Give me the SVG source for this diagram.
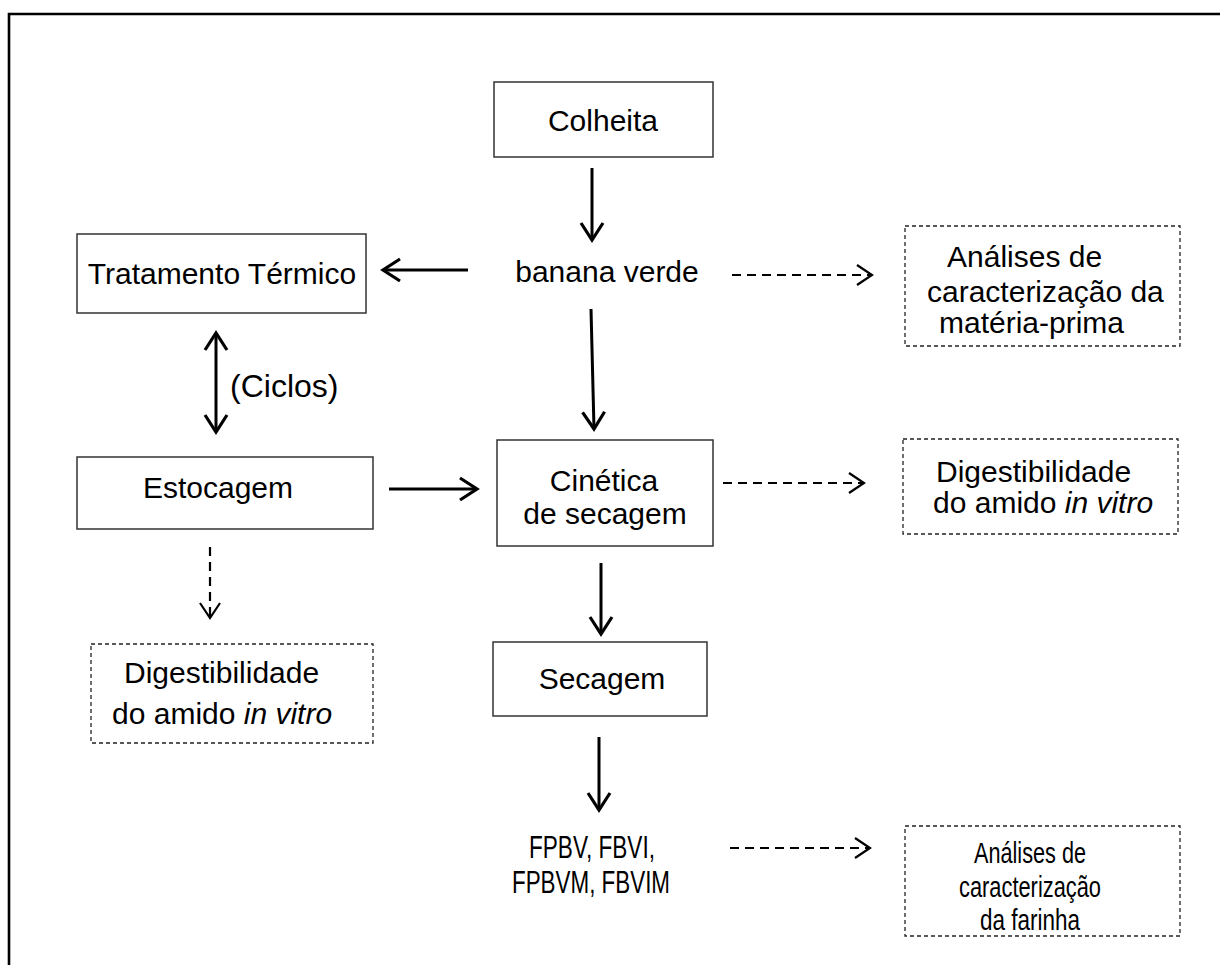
<svg xmlns="http://www.w3.org/2000/svg" width="1220" height="965" viewBox="0 0 1220 965">
  <style>
    .t { font-family: "Liberation Sans", Arial, sans-serif; font-size: 30px; fill: #000; }
    .n { font-size: 32px; }
    .m { font-size: 30px; }
    .box { fill: #fff; stroke: #333; stroke-width: 1.5; }
    .dbox { fill: #fff; stroke: #222; stroke-width: 1.3; stroke-dasharray: 4 3; }
    .a { fill: none; stroke: #000; stroke-width: 3; }
    .d { fill: none; stroke: #000; stroke-width: 2.2; stroke-dasharray: 9 6; }
    .frame { fill: none; stroke: #000; stroke-width: 2.6; }
  </style>
  <defs>
    <marker id="head" markerUnits="userSpaceOnUse" viewBox="0 0 22 26" markerWidth="22" markerHeight="26" refX="19" refY="13" orient="auto-start-reverse">
      <path d="M2,2 L19,13 L2,24" fill="none" stroke="#000" stroke-width="3.2"/>
    </marker>
    <marker id="dhead" markerUnits="userSpaceOnUse" viewBox="0 0 20 24" markerWidth="20" markerHeight="24" refX="17" refY="12" orient="auto">
      <path d="M2,2 L17,12 L2,22" fill="none" stroke="#000" stroke-width="2.2"/>
    </marker>
  </defs>

  <rect width="1220" height="965" fill="#fff"/>
  <!-- page frame: only the top and left edges fall inside the view -->
  <path class="frame" d="M9,975 L9,14 L1230,14"/>

  <g id="connectors">
    <line class="a" x1="592" y1="168" x2="592" y2="240" marker-end="url(#head)"/>
    <line class="a" x1="468" y1="270" x2="383" y2="270" marker-end="url(#head)"/>
    <line class="d" x1="732" y1="275" x2="872" y2="275" marker-end="url(#dhead)"/>
    <line class="a" x1="591" y1="309" x2="594" y2="429" marker-end="url(#head)"/>
    <line class="a" x1="216" y1="333" x2="216" y2="432" marker-start="url(#head)" marker-end="url(#head)"/>
    <line class="a" x1="389" y1="489" x2="477" y2="489" marker-end="url(#head)"/>
    <line class="d" x1="723" y1="483" x2="864" y2="483" marker-end="url(#dhead)"/>
    <line class="d" x1="210" y1="547" x2="210" y2="618" marker-end="url(#dhead)"/>
    <line class="a" x1="601" y1="563" x2="601" y2="634" marker-end="url(#head)"/>
    <line class="a" x1="599" y1="737" x2="599" y2="810" marker-end="url(#head)"/>
    <line class="d" x1="730" y1="848" x2="870" y2="848" marker-end="url(#dhead)"/>
  </g>

  <g id="colheita">
    <rect class="box" x="494" y="82" width="219" height="75"/>
    <text class="t" x="603" y="131" text-anchor="middle">Colheita</text>
  </g>

  <g id="banana-verde">
    <text class="t" x="607" y="282" text-anchor="middle">banana verde</text>
  </g>

  <g id="tratamento-termico">
    <rect class="box" x="77" y="234" width="289" height="79"/>
    <text class="t" x="222" y="284" text-anchor="middle">Tratamento Térmico</text>
  </g>

  <g id="analises-materia-prima">
    <rect class="dbox" x="905" y="226" width="275" height="120"/>
    <text class="t" x="947" y="267">Análises de</text>
    <text class="t" x="927" y="302">caracterização da</text>
    <text class="t" x="939" y="333">matéria-prima</text>
  </g>

  <g id="ciclos">
    <text class="t" x="230" y="397" style="font-size:32px">(Ciclos)</text>
  </g>

  <g id="estocagem">
    <rect class="box" x="77" y="457" width="296" height="72"/>
    <text class="t" x="218" y="498" text-anchor="middle">Estocagem</text>
  </g>

  <g id="cinetica-de-secagem">
    <rect class="box" x="497" y="440" width="216" height="106"/>
    <text class="t" x="604" y="491" text-anchor="middle">Cinética</text>
    <text class="t" x="605" y="524" text-anchor="middle">de secagem</text>
  </g>

  <g id="digestibilidade-cinetica">
    <rect class="dbox" x="903" y="439" width="275" height="95"/>
    <text class="t" x="936" y="482">Digestibilidade</text>
    <text class="t" x="933" y="513">do amido <tspan font-style="italic">in vitro</tspan></text>
  </g>

  <g id="digestibilidade-estocagem">
    <rect class="dbox" x="91" y="644" width="282" height="99"/>
    <text class="t" x="124" y="683">Digestibilidade</text>
    <text class="t" x="112" y="724">do amido <tspan font-style="italic">in vitro</tspan></text>
  </g>

  <g id="secagem">
    <rect class="box" x="493" y="642" width="214" height="74"/>
    <text class="t" x="602" y="689" text-anchor="middle">Secagem</text>
  </g>

  <g id="farinhas">
    <text class="t n" x="592" y="858" text-anchor="middle" textLength="126" lengthAdjust="spacingAndGlyphs">FPBV, FBVI,</text>
    <text class="t n" x="591" y="893" text-anchor="middle" textLength="158" lengthAdjust="spacingAndGlyphs">FPBVM, FBVIM</text>
  </g>

  <g id="analises-farinha">
    <rect class="dbox" x="905" y="826" width="275" height="110"/>
    <text class="t m" x="1030" y="863" text-anchor="middle" textLength="112" lengthAdjust="spacingAndGlyphs">Análises de</text>
    <text class="t m" x="1030" y="897" text-anchor="middle" textLength="142" lengthAdjust="spacingAndGlyphs">caracterização</text>
    <text class="t m" x="1030" y="930" text-anchor="middle" textLength="100" lengthAdjust="spacingAndGlyphs">da farinha</text>
  </g>
</svg>
